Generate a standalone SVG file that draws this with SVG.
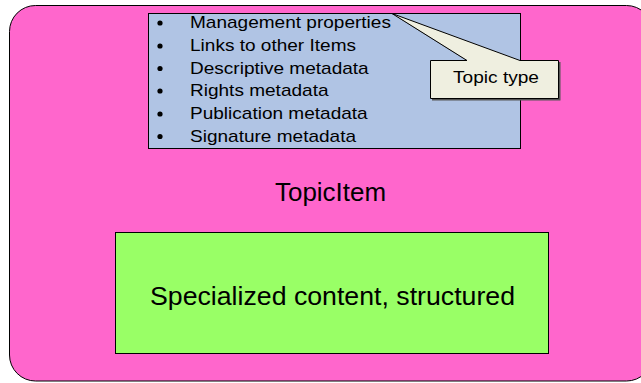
<svg xmlns="http://www.w3.org/2000/svg" width="641" height="383" viewBox="0 0 641 383">
  <style>
    .txt { font-family: "Liberation Sans", Arial, sans-serif; fill: #000; }
    .item { font-size: 17px; }
    .big { font-size: 26px; }
    .box { stroke: #000; stroke-width: 1; }
  </style>
  <rect width="641" height="383" fill="#fff"/>
  <g id="topic-item">
    <rect class="box" x="9.5" y="5.5" width="643" height="375.5" rx="26" ry="26" fill="#FF66CC"/>
    <text class="txt" font-size="25.5" x="275" y="200.5" textLength="111" lengthAdjust="spacingAndGlyphs">TopicItem</text>
  </g>
  <g id="metadata-list">
    <rect class="box" x="148.5" y="13.5" width="372" height="135" fill="#B0C4E4"/>
    <g class="txt item">
      <circle cx="160" cy="23" r="2.6"/>
      <circle cx="160" cy="46" r="2.6"/>
      <circle cx="160" cy="68.5" r="2.6"/>
      <circle cx="160" cy="91" r="2.6"/>
      <circle cx="160" cy="114" r="2.6"/>
      <circle cx="160" cy="136.5" r="2.6"/>
      <g transform="translate(190,0) scale(1.12,1)">
        <text x="0" y="28.3">Management properties</text>
        <text x="0" y="51">Links to other Items</text>
        <text x="0" y="73.7">Descriptive metadata</text>
        <text x="0" y="96.4">Rights metadata</text>
        <text x="0" y="119">Publication metadata</text>
        <text x="0" y="141.7">Signature metadata</text>
      </g>
    </g>
  </g>
  <g id="topic-type-callout">
    <path d="M432,62 L469,62 L394,15 L522,62 L560.5,62 L560.5,100.5 L432,100.5 Z" fill="#555"/>
    <path class="box" d="M430.5,60.5 L467,60.5 L392,13.5 L520,60.5 L558.5,60.5 L558.5,98.5 L430.5,98.5 Z" fill="#EFEFE0"/>
    <text class="txt item" x="453" y="83.3" textLength="86" lengthAdjust="spacingAndGlyphs">Topic type</text>
  </g>
  <g id="specialized-content">
    <rect class="box" x="115.5" y="232.5" width="433" height="121" fill="#99FF66"/>
    <text class="txt big" x="150" y="305" textLength="365" lengthAdjust="spacingAndGlyphs">Specialized content, structured</text>
  </g>
  <g id="connectors"/>
</svg>
